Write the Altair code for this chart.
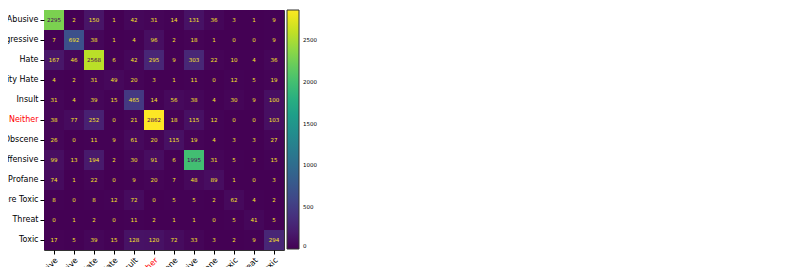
import altair as alt
import pandas as pd

labels = ["Abusive", "Aggressive", "Hate", "Identity Hate", "Insult", "Neither",
          "Obscene", "Offensive", "Profane", "Severe Toxic", "Threat", "Toxic"]

row_abusive = [2295, 2, 150, 1, 42, 31, 14, 131, 36, 3, 1, 9]
row_aggressive = [7, 692, 38, 1, 4, 96, 2, 18, 1, 0, 0, 9]
row_hate = [167, 46, 2568, 6, 42, 295, 9, 303, 22, 10, 4, 36]
row_identity_hate = [4, 2, 31, 49, 20, 3, 1, 11, 0, 12, 5, 19]
row_insult = [31, 4, 39, 15, 465, 14, 56, 38, 4, 30, 9, 100]
row_neither = [38, 77, 252, 0, 21, 2862, 18, 115, 12, 0, 0, 103]
row_obscene = [26, 0, 11, 9, 61, 20, 115, 19, 4, 3, 3, 27]
row_offensive = [99, 13, 194, 2, 30, 91, 6, 1995, 31, 5, 3, 15]
row_profane = [74, 1, 22, 0, 9, 20, 7, 48, 89, 1, 0, 3]
row_severe_toxic = [8, 0, 8, 12, 72, 0, 5, 5, 2, 62, 4, 2]
row_threat = [0, 1, 2, 0, 11, 2, 1, 1, 0, 5, 41, 5]
row_toxic = [17, 5, 39, 15, 128, 120, 72, 33, 3, 2, 9, 294]

colorbar_ticks = [0, 500, 1000, 1500, 2000, 2500]

rows = [row_abusive, row_aggressive, row_hate, row_identity_hate, row_insult,
        row_neither, row_obscene, row_offensive, row_profane, row_severe_toxic,
        row_threat, row_toxic]

records = []
for i, t in enumerate(labels):
    for j, p in enumerate(labels):
        records.append({"true": t, "pred": p, "count": rows[i][j]})
df = pd.DataFrame(records)

vmax = max(max(r) for r in rows)
vmin = min(min(r) for r in rows)
thresh = (vmax + vmin) / 2.0

label_color = {"condition": {"test": "datum.value == 'Neither'", "value": "red"}, "value": "black"}

x = alt.X("pred:N", sort=labels, title=None,
          scale=alt.Scale(paddingInner=0, paddingOuter=0),
          axis=alt.Axis(labelAngle=-45, labelAlign="right", labelBaseline="top",
                        labelFontSize=8, labelFont="DejaVu Sans", tickSize=4,
                        domain=False, grid=False, labelPadding=2,
                        labelColor=label_color, tickColor="black"))
y = alt.Y("true:N", sort=labels, title=None,
          scale=alt.Scale(paddingInner=0, paddingOuter=0),
          axis=alt.Axis(labelFontSize=8, labelFont="DejaVu Sans", tickSize=4,
                        domain=False, grid=False, labelPadding=2,
                        labelColor=label_color, tickColor="black"))

base = alt.Chart(df)

rect = base.mark_rect(strokeWidth=0).encode(
    x=x, y=y,
    color=alt.Color("count:Q",
                    scale=alt.Scale(scheme="viridis", domain=[0, vmax], nice=False, zero=True),
                    legend=alt.Legend(title=None, orient="none", legendX=243, legendY=0,
                                      direction="vertical", gradientLength=239,
                                      gradientThickness=12, values=colorbar_ticks,
                                      format="d",
                                      labelFontSize=5.5, labelFont="DejaVu Sans",
                                      labelColor="black", labelOffset=4,
                                      labelOverlap=False,
                                      gradientStrokeColor="#333",
                                      gradientStrokeWidth=1)),
)

text = base.mark_text(fontSize=5.5, font="DejaVu Sans").encode(
    x=x, y=y,
    text=alt.Text("count:Q"),
    color=alt.condition(f"datum.count > {thresh}", alt.value("#440154"), alt.value("#fde725")),
)

chart = (rect + text).properties(
    width=240, height=240,
    autosize=alt.AutoSizeParams(type="none"),
    padding={"left": 36, "top": 2, "right": 60, "bottom": 30},
).configure_view(stroke="#333", strokeWidth=1)

chart.save("out.html", embed_options={"renderer": "svg", "actions": False})
